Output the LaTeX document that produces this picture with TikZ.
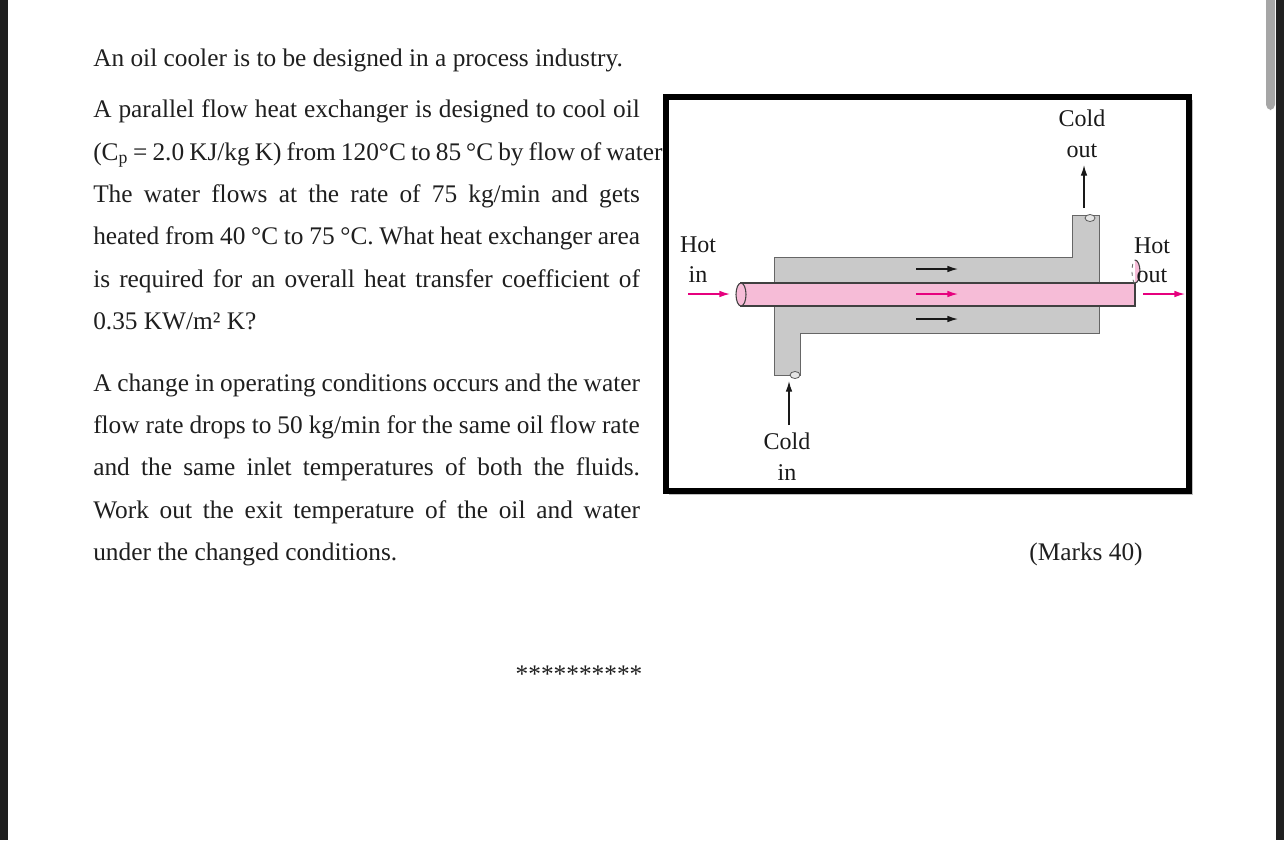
\documentclass[tikz,border=0pt]{standalone}
\usepackage{fontspec}
\usetikzlibrary{arrows.meta}
\setmainfont{Liberation Serif}
\definecolor{pk}{HTML}{F6BCD7}
\definecolor{mg}{HTML}{E6007E}
\begin{document}
\begin{tikzpicture}[x=0.75pt,y=-0.75pt,
  txt/.style={anchor=base west,inner sep=0pt,font=\fontsize{19}{22}\selectfont,text=black!88},
  lab/.style={inner sep=0pt,font=\fontsize{18}{20}\selectfont,text=black!90},
  blk/.style={-{Latex[length=8pt,width=5pt]},line width=1pt,black!90},
  pnk/.style={-{Latex[length=8pt,width=5pt]},line width=1pt,mg}]
\useasboundingbox (0,0) rectangle (1284,840);
\fill[white] (0,0) rectangle (1284,840);
\fill[black!88] (0,0) rectangle (8,840);
\fill[black!88] (1276,0) rectangle (1284,840);
\fill[black!35,rounded corners=4] (1266,-5) rectangle (1275,110);
% text
\def\W{410pt}
\newcommand\jline[1]{\makebox[\W][s]{\spaceskip=0.2em plus 3em\relax #1}}
\node[txt] (l1) at (93,66) {An oil cooler is to be designed in a process industry.};
\node[txt] (l2) at (93,117) {\jline{A parallel flow heat exchanger is designed to cool oil}};
\node[txt] (l3) at (93,160) {\jline{(C\textsubscript{p} = 2.0 KJ/kg K) from 120°C to 85 °C by flow of water.}};
\node[txt] (l4) at (93,202) {\jline{The water flows at the rate of 75 kg/min and gets}};
\node[txt] (l5) at (93,244) {\jline{heated from 40 °C to 75 °C. What heat exchanger area}};
\node[txt] (l6) at (93,287) {\jline{is required for an overall heat transfer coefficient of}};
\node[txt] (l7) at (93,329) {0.35 KW/m² K?};
\node[txt] (m1) at (93,391) {\jline{A change in operating conditions occurs and the water}};
\node[txt] (m2) at (93,433) {\jline{flow rate drops to 50 kg/min for the same oil flow rate}};
\node[txt] (m3) at (93,475) {\jline{and the same inlet temperatures of both the fluids.}};
\node[txt] (m4) at (93,518) {\jline{Work out the exit temperature of the oil and water}};
\node[txt] (m5) at (93,560) {under the changed conditions.};
\node[txt,anchor=base] (mk) at (1086,560) {(Marks 40)};
\node[txt,anchor=base] (st) at (579,682) {**********};
% frame
\fill[black!25] (669,100) rectangle (1193,495);
\draw[line width=4pt,fill=white] (666,97) rectangle (1189,491);
% shell
\fill[black!21,draw=black!60,line width=0.6pt]
  (774,257) -- (1072,257) -- (1072,215) -- (1099,215) -- (1099,333) -- (800,333) -- (800,375) -- (774,375) -- cycle;
\draw[black!65,line width=0.6pt,fill=black!10] (1090,218) ellipse (5 and 3.5);
\draw[black!65,line width=0.6pt,fill=black!10] (795,375) ellipse (5 and 3.5);
% tube
\draw[line width=1pt,black!75,fill=pk] (741,283) rectangle (1135,306);
\draw[line width=0.8pt,black!75,fill=pk] (741,294.5) ellipse (5 and 11.5);
\fill[pk] (1135,283) arc (90:-90:5 and 11.5) -- cycle;
\draw[line width=0.8pt,black!75] (1135,283) arc (90:-90:5 and 11.5);
\draw[line width=0.6pt,black!60,dashed] (1135,283) arc (90:270:3 and 11.5);
% arrows
\coordinate (a1) at (916,269); \coordinate (b1) at (958,269);
\coordinate (a2) at (916,294); \coordinate (b2) at (958,294);
\coordinate (a3) at (916,319); \coordinate (b3) at (958,319);
\draw[blk] (a1) -- (b1); \draw[pnk] (a2) -- (b2); \draw[blk] (a3) -- (b3);
\coordinate (hi1) at (688,294); \coordinate (hi2) at (730,294);
\coordinate (ho1) at (1143,294); \coordinate (ho2) at (1185,294);
\draw[pnk] (hi1) -- (hi2); \draw[pnk] (ho1) -- (ho2);
\coordinate (co1) at (1084,208); \coordinate (co2) at (1084,165);
\coordinate (ci1) at (789,425); \coordinate (ci2) at (789,381);
\draw[blk] (co1) -- (co2); \draw[blk] (ci1) -- (ci2);
% labels
\node[lab] (t1) at (1082,118) {Cold};
\node[lab] (t2) at (1082,151) {out};
\node[lab] (t3) at (698,245) {Hot};
\node[lab] (t4) at (698,275) {in};
\node[lab] (t5) at (1152,246) {Hot};
\node[lab] (t6) at (1152,276) {out};
\node[lab] (t7) at (787,441) {Cold};
\node[lab] (t8) at (787,473) {in};
\end{tikzpicture}
\end{document}
